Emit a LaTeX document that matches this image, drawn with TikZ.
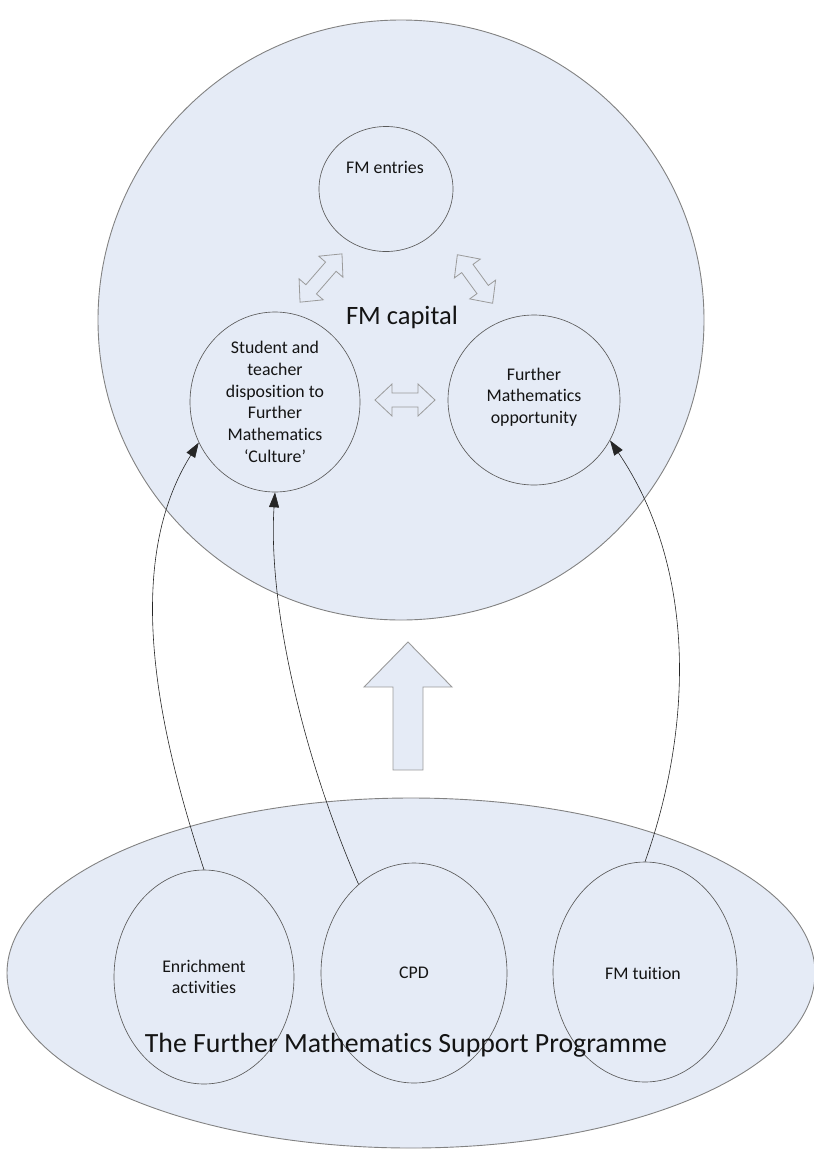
\documentclass[tikz,border=0pt]{standalone}
\usepackage{fontspec}
\setmainfont{Carlito}[Ligatures=CommonOff]
\usetikzlibrary{shapes.geometric,arrows.meta}
\definecolor{fmfill}{RGB}{229,235,246}
\definecolor{fmline}{RGB}{130,130,130}
\definecolor{fmdark}{RGB}{90,90,90}
\definecolor{fmarrow}{RGB}{155,155,155}
\definecolor{fmtext}{RGB}{20,20,20}
\tikzset{
  bigshape/.style={ellipse, draw=fmline, fill=fmfill, line width=0.9pt, inner sep=0pt},
  smallcirc/.style={ellipse, draw=fmdark, line width=0.65pt, inner sep=0pt},
  lbl/.style={font=\fontsize{17.8}{21.7}\selectfont, align=center, text=fmtext, inner sep=0pt},
  biglbl/.style={font=\fontsize{26.5}{31}\selectfont, text=fmtext, inner sep=0pt},
  conn/.style={draw=black!85, line width=0.6pt, -{Triangle[length=15pt,width=10pt]}},
  dblarr/.style={draw=fmarrow, fill=fmfill, line width=0.8pt, line join=miter},
  uparr/.style={draw=fmarrow, fill=fmfill, line width=0.9pt, line join=miter}
}
\newcommand{\fmdbl}[4]{%
  \draw[dblarr, shift={(#1,#2)}, rotate=#3]
    (-#4,0) -- (-#4+17,16) -- (-#4+17,7) -- (#4-17,7) -- (#4-17,16) -- (#4,0)
    -- (#4-17,-16) -- (#4-17,-7) -- (-#4+17,-7) -- (-#4+17,-16) -- cycle;}
\begin{document}
\begin{tikzpicture}[x=1pt,y=-1pt]
\useasboundingbox (0,0) rectangle (814,1149);
% big shapes
\node[bigshape, minimum width=606pt, minimum height=600pt] (capital) at (401,320) {};
\node[bigshape, minimum width=808pt, minimum height=350pt] (fmsp) at (411,973) {};
% upper circles
\node[smallcirc, minimum width=134pt, minimum height=125pt] (entries) at (386,189) {};
\node[smallcirc, minimum width=170pt, minimum height=180pt] (student) at (275,402) {};
\node[smallcirc, minimum width=172pt, minimum height=170pt] (opp) at (534,400) {};
% lower circles
\node[smallcirc, minimum width=180pt, minimum height=214pt] (enrich) at (204,977) {};
\node[smallcirc, minimum width=186pt, minimum height=220pt] (cpd) at (414,973) {};
\node[smallcirc, minimum width=184pt, minimum height=220pt] (tuition) at (645,972) {};
% labels
\node[biglbl] (capitaltxt) at (402,317) {FM capital};
\node[lbl] (entriestxt) at (385,167) {FM entries};
\node[lbl] (studenttxt) at (275,402) {Student and\\teacher\\disposition to\\Further\\Mathematics\\‘Culture’};
\node[lbl] (opptxt) at (534,397) {Further\\Mathematics\\opportunity};
\node[lbl] (enrichtxt) at (204,977) {Enrichment\\activities};
\node[lbl] (cpdtxt) at (414,973) {CPD};
\node[lbl] (tuitiontxt) at (643,973) {FM tuition};
\node[biglbl, font=\fontsize{27.8}{33}\selectfont] (fmsptxt) at (406,1045) {The Further Mathematics Support Programme};
% double arrows
\fmdbl{321}{278}{49}{32}
\fmdbl{475}{279}{-54}{30}
\fmdbl{405}{400}{0}{30}
% up arrow
\draw[uparr] (408,642) -- (452,687) -- (423,687) -- (423,770) -- (393,770) -- (393,687) -- (364,687) -- cycle;
% connectors
\draw[conn] (enrich.north) .. controls (158,730) and (122,565) .. (student.208);
\draw[conn] (cpd.122) .. controls (300,750) and (268,600) .. (student.south);
\draw[conn] (tuition.north) .. controls (692,730) and (698,570) .. (opp.-28);
\end{tikzpicture}
\end{document}
